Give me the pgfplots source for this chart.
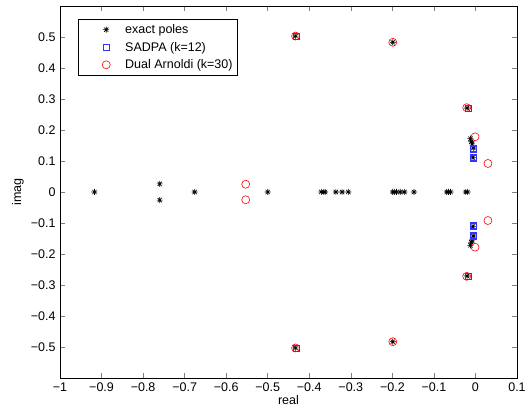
\documentclass[border=0pt]{standalone}
\usepackage{pgfplots}
\pgfplotsset{compat=1.18}
\usepackage{fontspec}
\setmainfont{Liberation Sans}
\pgfdeclareplotmark{mstar}{%
  \pgfpathmoveto{\pgfqpoint{0pt}{\pgfplotmarksize}}%
  \pgfpathlineto{\pgfqpoint{0pt}{-\pgfplotmarksize}}%
  \pgfpathmoveto{\pgfqpoint{\pgfplotmarksize}{0pt}}%
  \pgfpathlineto{\pgfqpoint{-\pgfplotmarksize}{0pt}}%
  \pgfpathmoveto{\pgfqpoint{0.707\pgfplotmarksize}{0.707\pgfplotmarksize}}%
  \pgfpathlineto{\pgfqpoint{-0.707\pgfplotmarksize}{-0.707\pgfplotmarksize}}%
  \pgfpathmoveto{\pgfqpoint{-0.707\pgfplotmarksize}{0.707\pgfplotmarksize}}%
  \pgfpathlineto{\pgfqpoint{0.707\pgfplotmarksize}{-0.707\pgfplotmarksize}}%
  \pgfusepathqstroke}
\begin{document}
\begin{tikzpicture}
\begin{axis}[
  width=457pt, height=372pt, scale only axis,
  xmin=-1, xmax=0.1, ymin=-0.6, ymax=0.6,
  xtick={-1,-0.9,-0.8,-0.7,-0.6,-0.5,-0.4,-0.3,-0.2,-0.1,0,0.1},
  xticklabels={−1,−0.9,−0.8,−0.7,−0.6,−0.5,−0.4,−0.3,−0.2,−0.1,0,0.1},
  ytick={-0.5,-0.4,-0.3,-0.2,-0.1,0,0.1,0.2,0.3,0.4,0.5},
  yticklabels={−0.5,−0.4,−0.3,−0.2,−0.1,0,0.1,0.2,0.3,0.4,0.5},
  tick align=inside,
  major tick length=5pt,
  tick style={line width=0.6pt},
  axis line style={line width=0.8pt},
  xticklabel style={font=\fontsize{12.5}{14}\selectfont, yshift=-1pt},
  yticklabel style={font=\fontsize{12.5}{14}\selectfont, xshift=-1pt},
  xlabel={real}, ylabel={imag},
  every axis x label/.style={at={(axis description cs:0.5,-0.059)}, anchor=center, font=\fontsize{12.5}{14}\selectfont},
  every axis y label/.style={at={(axis description cs:-0.0919,0.5)}, anchor=center, rotate=90, font=\fontsize{12.5}{14}\selectfont},
  legend style={at={(0.039,0.965)}, anchor=north west, draw=black, line width=0.8pt, font=\fontsize{12.5}{14}\selectfont, row sep=3pt, inner xsep=3pt, inner ysep=3pt},
  legend cell align=left,
  legend image code/.code={\path[draw=none] (0pt,0pt) -- (42pt,0pt); \draw[#1, only marks, line width=0.6pt] plot coordinates {(25pt,0pt)};},
  every axis plot/.append style={only marks},
]
\addplot[mark=mstar, mark size=3pt, black, mark options={line width=0.6pt}] coordinates {
(-0.917,0) (-0.760,0.026) (-0.760,-0.026) (-0.676,0) (-0.500,0)
(-0.371,0) (-0.365,0) (-0.362,0) (-0.336,0) (-0.321,0) (-0.306,0)
(-0.199,0) (-0.195,0) (-0.190,0) (-0.181,0) (-0.171,0) (-0.148,0)
(-0.069,0) (-0.065,0) (-0.060,0) (-0.023,0) (-0.019,0)
(-0.433,0.503) (-0.433,-0.503) (-0.199,0.483) (-0.199,-0.483)
(-0.020,0.271) (-0.020,-0.271)
(-0.012,0.172) (-0.012,-0.172) (-0.010,0.162) (-0.010,-0.162)
(-0.008,0.155) (-0.008,-0.155)
(-0.005,0.142) (-0.005,-0.142) (-0.006,0.111) (-0.006,-0.111)
};
\addlegendentry{exact poles}
\addplot[mark=square, mark size=3pt, blue!80!white, mark options={line width=0.6pt}] coordinates {
(-0.432,0.503) (-0.432,-0.503)
(-0.018,0.271) (-0.018,-0.271)
(-0.004,0.142) (-0.004,-0.142)
(-0.005,0.139) (-0.005,-0.139)
(-0.006,0.112) (-0.006,-0.112)
(-0.005,0.109) (-0.005,-0.109)
};
\addlegendentry{SADPA (k=12)}
\addplot[mark=o, mark size=4pt, red, mark options={line width=0.6pt}] coordinates {
(-0.433,0.503) (-0.433,-0.503)
(-0.199,0.483) (-0.199,-0.483)
(-0.021,0.272) (-0.021,-0.272)
(-0.001,0.178) (-0.001,-0.178)
(0.030,0.092) (0.030,-0.092)
(-0.553,0.025) (-0.553,-0.025)
};
\addlegendentry{Dual Arnoldi (k=30)}
\end{axis}
\pgfresetboundingbox
\path ([xshift=-60pt,yshift=-30pt]current axis.south west) rectangle ([xshift=15pt,yshift=6pt]current axis.north east);
\end{tikzpicture}
\end{document}
